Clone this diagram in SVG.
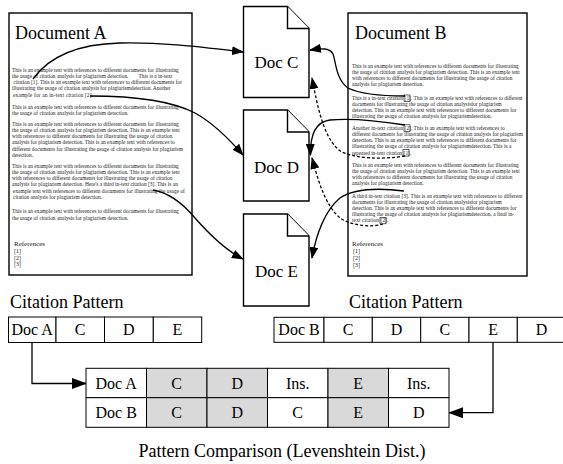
<svg xmlns="http://www.w3.org/2000/svg" width="563" height="464" viewBox="0 0 563 464">
<style>
.doc{fill:#fff;stroke:#000;stroke-width:1.4}
.page{fill:#fff;stroke:#000;stroke-width:1.4;stroke-linejoin:miter}
.title{font-family:"Liberation Serif",serif;font-size:18px;fill:#000}
.body{font-family:"Liberation Serif",serif;font-size:5.4px;fill:#222}
.refh{font-family:"Liberation Serif",serif;font-size:7px;fill:#222}
.refi{font-family:"Liberation Serif",serif;font-size:6px;fill:#222}
.big{font-family:"Liberation Serif",serif;font-size:17px;fill:#000;text-anchor:middle}
.cap{font-family:"Liberation Serif",serif;font-size:18px;fill:#000}
.cell{fill:#fff;stroke:#000;stroke-width:1}
.gray{fill:#d9d9d9;stroke:#000;stroke-width:1}
.ct{font-family:"Liberation Serif",serif;font-size:16px;fill:#000;text-anchor:middle}
.con{fill:none;stroke:#000;stroke-width:1.3}
.dash{fill:none;stroke:#000;stroke-width:1.3;stroke-dasharray:3,2}
.cbox{fill:none;stroke:#000;stroke-width:0.6}
</style>
<defs>
<marker id="ah" markerWidth="12" markerHeight="9" refX="11" refY="4.5" orient="auto" markerUnits="userSpaceOnUse"><path d="M0,0 L12,4.5 L0,9 z" fill="#000"/></marker>
<marker id="ah2" markerWidth="15" markerHeight="11" refX="14" refY="5.5" orient="auto" markerUnits="userSpaceOnUse"><path d="M0,0 L15,5.5 L0,11 z" fill="#000"/></marker>
</defs>

<g id="docA">
<rect class="doc" x="9" y="13" width="183" height="262"/>
<text class="title" x="15" y="39">Document A</text>
<text class="body" x="12" y="71.5">This is an example text with references to different documents for illustrating</text>
<text class="body" x="12" y="77.8">the usage of citation analysis for plagiarism detection.<tspan dx="10">This is a in-text</tspan></text>
<text class="body" x="13.5" y="84.1">citation [1]. This is an example text with references to different documents for</text>
<text class="body" x="12" y="90.4">illustrating the usage of citation analysis for plagiarismdetection. Another</text>
<text class="body" x="13" y="96.7" textLength="80" lengthAdjust="spacing">example for an in-text citation [2].</text>
<text class="body" x="12" y="109">This is an example text with references to different documents for illustrating</text>
<text class="body" x="12" y="115">the usage of citation analysis for plagiarism detection.</text>
<text class="body" x="12" y="125.5">This is an example text with references to different documents for illustrating</text>
<text class="body" x="12" y="131.8">the usage of citation analysis for plagiarism detection. This is an example text</text>
<text class="body" x="12" y="138.1">with references to different documents for illustrating the usage of citation</text>
<text class="body" x="12" y="144.4">analysis for plagiarism detection. This is an example text with references to</text>
<text class="body" x="12" y="150.7">different documents for illustrating the usage of citation analysis for plagiarism</text>
<text class="body" x="12" y="157">detection.</text>
<text class="body" x="12" y="167.5">This is an example text with references to different documents for illustrating</text>
<text class="body" x="12" y="173.8">the usage of citation analysis for plagiarism detection. This is an example text</text>
<text class="body" x="12" y="180.1">with references to different documents for illustrating the usage of citation</text>
<text class="body" x="12" y="186.4">analysis for plagiarism detection. Here's a third in-text citation [3]. This is an</text>
<text class="body" x="13" y="192.7">example text with references to different documents for illustrating the usage of</text>
<text class="body" x="13" y="199">citation analysis for plagiarism detection.</text>
<text class="body" x="12" y="212.5">This is an example text with references to different documents for illustrating</text>
<text class="body" x="12" y="220">the usage of citation analysis for plagiarism detection.</text>
<text class="refh" x="14" y="246">References</text>
<text class="refi" x="14" y="252.8">[1]</text>
<text class="refi" x="14" y="259.5">[2]</text>
<text class="refi" x="14" y="266.2">[3]</text>
</g>

<g id="docB">
<rect class="doc" x="348" y="13" width="179" height="263"/>
<text class="title" x="355" y="39">Document B</text>
<text class="body" x="352" y="68">This is an example text with references to different documents for illustrating</text>
<text class="body" x="352" y="74">the usage of citation analysis for plagiarism detection. This is an example text</text>
<text class="body" x="352" y="80">with references to different documents for illustrating the usage of citation</text>
<text class="body" x="352" y="86">analysis for plagiarism detection.</text>
<text class="body" x="352" y="100" textLength="51" lengthAdjust="spacing">This is a in-text citation</text>
<text class="body" x="404.6" y="100" textLength="118" lengthAdjust="spacing">[1]. This is an example text with references to different</text>
<text class="body" x="352" y="106">documents for illustrating the usage of citation analysisfor plagiarism</text>
<text class="body" x="352" y="112">detection. This is an example text with references to different documents for</text>
<text class="body" x="352" y="118">illustrating the usage of citation analysis for plagiarismdetection.</text>
<text class="body" x="352" y="129.8" textLength="51" lengthAdjust="spacing">Another in-text citation</text>
<text class="body" x="404.6" y="129.8" textLength="100" lengthAdjust="spacing">[2]. This is an example text with references to</text>
<text class="body" x="352" y="135.9">different documents for illustrating the usage of citation analysis for plagiarism</text>
<text class="body" x="352" y="142">detection. This is an example text with references to different documents for</text>
<text class="body" x="352" y="148.2">illustrating the usage of citation analysis for plagiarismdetection. This is a</text>
<text class="body" x="352" y="154.6" textLength="50" lengthAdjust="spacing">repeated in-text citation</text>
<text class="body" x="403.6" y="154.6">[1].</text>
<text class="body" x="352" y="166.5">This is an example text with references to different documents for illustrating</text>
<text class="body" x="352" y="172.8">the usage of citation analysis for plagiarism detection. This is an example text</text>
<text class="body" x="352" y="179">with references to different documents for illustrating the usage of citation</text>
<text class="body" x="352" y="185.2">analysis for plagiarism detection.</text>
<text class="body" x="352" y="197.5" textLength="48" lengthAdjust="spacing">A third in-text citation</text>
<text class="body" x="401.5" y="197.5" textLength="121" lengthAdjust="spacing">[3]. This is an example text with references to different</text>
<text class="body" x="352" y="203.6">documents for illustrating the usage of citation analysisfor plagiarism</text>
<text class="body" x="352" y="209.9">detection. This is an example text with references to different documents for</text>
<text class="body" x="352" y="216.1">illustrating the usage of citation analysis for plagiarismdetection, a final in-</text>
<text class="body" x="352" y="222.3" textLength="27" lengthAdjust="spacing">text citation</text>
<text class="body" x="380.6" y="222.3">[2].</text>
<text class="refh" x="352" y="245.5">References</text>
<text class="refi" x="353" y="252.8">[1]</text>
<text class="refi" x="353" y="259.8">[2]</text>
<text class="refi" x="353" y="267">[3]</text>
<rect class="cbox" x="404" y="95" width="6" height="6.5"/>
<rect class="cbox" x="404" y="124.8" width="6" height="6.5"/>
<rect class="cbox" x="403" y="149.6" width="6" height="6.5"/>
<rect class="cbox" x="380" y="217.3" width="6" height="6.5"/>
</g>

<g id="docC">
<path class="page" d="M243.5,6.5 H287.5 L309,28.5 V97.5 H243.5 Z"/>
<path class="page" d="M287.5,6.5 V28.5 H309"/>
<text class="big" x="276.5" y="68">Doc C</text>
</g>
<g id="docD">
<path class="page" d="M243.5,110 H287.5 L309,132 V201 H243.5 Z"/>
<path class="page" d="M287.5,110 V132 H309"/>
<text class="big" x="276.5" y="173">Doc D</text>
</g>
<g id="docE">
<path class="page" d="M243.5,214 H287.5 L309,236 V306 H243.5 Z"/>
<path class="page" d="M287.5,214 V236 H309"/>
<text class="big" x="276.5" y="277">Doc E</text>
</g>

<g id="connectors">
<path class="con" marker-end="url(#ah)" d="M33,79 C50,55 80,44 120,43 C160,42 200,47 243,52"/>
<path class="con" marker-end="url(#ah)" d="M90,96 C130,96 170,100 195,113 C215,124 230,140 243,155"/>
<path class="con" marker-end="url(#ah)" d="M153,190 C165,192 180,200 195,218 C210,235 225,250 243,259"/>
<path class="con" marker-end="url(#ah)" d="M405,96 C380,96 360,94 348,88 C336,80 336,62 333,54 C330,48 322,48 310,50"/>
<path class="con" marker-end="url(#ah)" d="M405,125 C380,121 350,118 330,120 C315,122 310,135 310.5,155"/>
<path class="con" marker-end="url(#ah)" d="M404,191 C380,188 355,188 340,198 C325,210 316,235 312,258"/>
<path class="dash" marker-end="url(#ah)" d="M405,156 C380,160 355,158 342,152 C325,142 318,110 312,78"/>
<path class="dash" marker-end="url(#ah)" d="M383,224 C370,228 350,225 340,218 C325,205 318,180 312,158"/>
<path class="con" marker-end="url(#ah2)" d="M32,342.3 V383.5 H86"/>
<path class="con" marker-end="url(#ah2)" d="M493,342.3 V412.7 H449"/>
</g>

<g id="patternA">
<text class="cap" x="10" y="308">Citation Pattern</text>
<rect class="cell" x="8.5" y="317" width="47.5" height="25.5"/>
<rect class="cell" x="56" y="317" width="48.5" height="25.5"/>
<rect class="cell" x="104.5" y="317" width="48.8" height="25.5"/>
<rect class="cell" x="153.3" y="317" width="48.4" height="25.5"/>
<text class="ct" x="32.2" y="335">Doc A</text>
<text class="ct" x="80.2" y="335">C</text>
<text class="ct" x="128.9" y="335">D</text>
<text class="ct" x="177.5" y="335">E</text>
</g>

<g id="patternB">
<text class="cap" x="349" y="308">Citation Pattern</text>
<rect class="cell" x="274" y="317.3" width="50" height="25"/>
<rect class="cell" x="324" y="317.3" width="48.3" height="25"/>
<rect class="cell" x="372.3" y="317.3" width="48.4" height="25"/>
<rect class="cell" x="420.7" y="317.3" width="48.3" height="25"/>
<rect class="cell" x="469" y="317.3" width="48.3" height="25"/>
<rect class="cell" x="517.3" y="317.3" width="48.3" height="25"/>
<text class="ct" x="299" y="335">Doc B</text>
<text class="ct" x="348.2" y="335">C</text>
<text class="ct" x="396.5" y="335">D</text>
<text class="ct" x="444.8" y="335">C</text>
<text class="ct" x="493.2" y="335">E</text>
<text class="ct" x="541.5" y="335">D</text>
</g>

<g id="comparison">
<rect class="cell" x="86" y="368.3" width="60.5" height="29.4"/>
<rect class="gray" x="146.5" y="368.3" width="60.5" height="29.4"/>
<rect class="gray" x="207" y="368.3" width="60.5" height="29.4"/>
<rect class="cell" x="267.5" y="368.3" width="60.5" height="29.4"/>
<rect class="gray" x="328" y="368.3" width="60.5" height="29.4"/>
<rect class="cell" x="388.5" y="368.3" width="60.5" height="29.4"/>
<rect class="cell" x="86" y="397.7" width="60.5" height="29.6"/>
<rect class="gray" x="146.5" y="397.7" width="60.5" height="29.6"/>
<rect class="gray" x="207" y="397.7" width="60.5" height="29.6"/>
<rect class="cell" x="267.5" y="397.7" width="60.5" height="29.6"/>
<rect class="gray" x="328" y="397.7" width="60.5" height="29.6"/>
<rect class="cell" x="388.5" y="397.7" width="60.5" height="29.6"/>
<text class="ct" x="116.2" y="388.5">Doc A</text>
<text class="ct" x="176.7" y="388.5">C</text>
<text class="ct" x="237.2" y="388.5">D</text>
<text class="ct" x="297.7" y="388.5">Ins.</text>
<text class="ct" x="358.2" y="388.5">E</text>
<text class="ct" x="418.7" y="388.5">Ins.</text>
<text class="ct" x="116.2" y="418">Doc B</text>
<text class="ct" x="176.7" y="418">C</text>
<text class="ct" x="237.2" y="418">D</text>
<text class="ct" x="297.7" y="418">C</text>
<text class="ct" x="358.2" y="418">E</text>
<text class="ct" x="418.7" y="418">D</text>
<text class="cap" x="282" y="456.5" text-anchor="middle">Pattern Comparison (Levenshtein Dist.)</text>
</g>
</svg>
